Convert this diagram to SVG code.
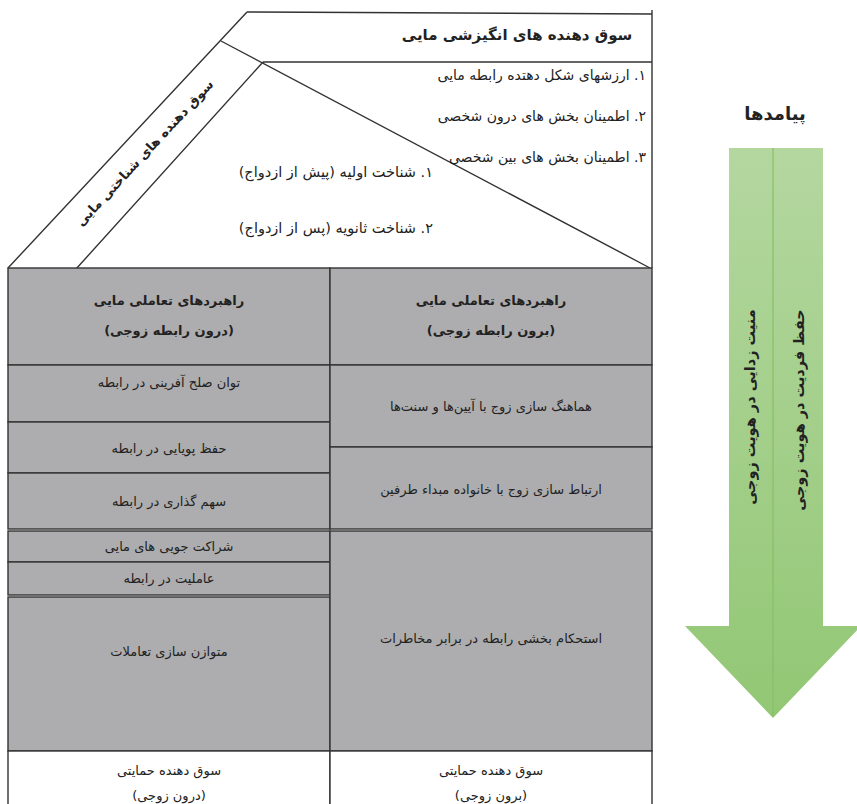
<svg xmlns="http://www.w3.org/2000/svg" width="857" height="804" viewBox="0 0 857 804">
<defs>
<linearGradient id="g" x1="0" y1="0" x2="0" y2="1">
<stop offset="0" stop-color="#b4d7a0"/>
<stop offset="1" stop-color="#92c774"/>
</linearGradient>
<style>
text{font-family:"DejaVu Sans","Noto Sans",sans-serif;fill:#222;}
.c{font-size:13px;text-anchor:middle;}
.h{font-size:13px;font-weight:bold;text-anchor:middle;}
.r{font-size:14px;direction:rtl;text-anchor:start;}
.ln{stroke:#333;stroke-width:1.4;fill:none;}
.cell{fill:#adadaf;stroke:#333;stroke-width:1.4;}
.wcell{fill:#fff;stroke:#333;stroke-width:1.4;}
.v{font-size:14.5px;font-weight:bold;text-anchor:middle;}
</style>
</defs>
<rect width="857" height="804" fill="#fff"/>

<g id="roof">
<path class="ln" d="M247,12 L652,14 M652,10 L652,268 M247,12 L8,268 M221,41 L650,268 M263,62 L652,62 M263,62 L76,269"/>
</g>

<g id="motivational">
<text class="h" x="517" y="40" direction="rtl" style="font-size:15px">سوق دهنده های انگیزشی مایی</text>
<text class="r" x="646" y="80">۱. ارزشهای شکل دهتده رابطه مایی</text>
<text class="r" x="646" y="121">۲. اطمینان بخش های درون شخصی</text>
<text class="r" x="646" y="162">۳. اطمینان بخش های بین شخصی</text>
</g>

<g id="cognitive">
<text class="h" transform="translate(148,156) rotate(-47)" x="0" y="0" direction="rtl">سوق دهنده های شناختی مایی</text>
<text class="r" x="433" y="177" style="font-size:14.5px">۱. شناخت اولیه (پیش از ازدواج)</text>
<text class="r" x="433" y="233" style="font-size:14.5px">۲. شناخت ثانویه (پس از ازدواج)</text>
</g>

<g id="inner-header">
<rect class="cell" x="8" y="268" width="322" height="97"/>
<text class="h" x="169" y="305" direction="rtl">راهبردهای تعاملی مایی</text>
<text class="h" x="169" y="335" direction="rtl">(درون رابطه زوجی)</text>
</g>
<g id="outer-header">
<rect class="cell" x="330" y="268" width="322" height="97"/>
<text class="h" x="491" y="305" direction="rtl">راهبردهای تعاملی مایی</text>
<text class="h" x="491" y="335" direction="rtl">(برون رابطه زوجی)</text>
</g>

<g id="l1"><rect class="cell" x="8" y="365" width="322" height="57"/><text class="c" x="169" y="387" direction="rtl">توان صلح آفرینی در رابطه</text></g>
<g id="l2"><rect class="cell" x="8" y="422" width="322" height="51"/><text class="c" x="169" y="453" direction="rtl">حفظ پویایی در رابطه</text></g>
<g id="l3"><rect class="cell" x="8" y="473" width="322" height="56"/><text class="c" x="169" y="506" direction="rtl">سهم گذاری در رابطه</text></g>
<g id="l4"><rect class="cell" x="8" y="531" width="322" height="31"/><text class="c" x="169" y="551" direction="rtl">شراکت جویی های مایی</text></g>
<g id="l5"><rect class="cell" x="8" y="562" width="322" height="33"/><text class="c" x="169" y="583" direction="rtl">عاملیت در رابطه</text></g>
<g id="l6"><rect class="cell" x="8" y="597" width="322" height="154"/><text class="c" x="169" y="656" direction="rtl">متوازن سازی تعاملات</text></g>

<g id="r1"><rect class="cell" x="330" y="365" width="322" height="82"/><text class="c" x="491" y="411" direction="rtl">هماهنگ سازی زوج با آیین‌ها و سنت‌ها</text></g>
<g id="r2"><rect class="cell" x="330" y="447" width="322" height="82"/><text class="c" x="491" y="494" direction="rtl">ارتباط سازی زوج با خانواده مبداء طرفین</text></g>
<g id="r3"><rect class="cell" x="330" y="531" width="322" height="220"/><text class="c" x="491" y="643" direction="rtl">استحکام بخشی رابطه در برابر مخاطرات</text></g>

<g id="support-inner">
<rect class="wcell" x="8" y="751" width="322" height="60"/>
<text class="c" x="169" y="775" direction="rtl">سوق دهنده حمایتی</text>
<text class="c" x="169" y="800" direction="rtl">(درون زوجی)</text>
</g>
<g id="support-outer">
<rect class="wcell" x="330" y="751" width="322" height="60"/>
<text class="c" x="491" y="775" direction="rtl">سوق دهنده حمایتی</text>
<text class="c" x="491" y="800" direction="rtl">(برون زوجی)</text>
</g>

<g id="outcomes">
<text x="775" y="120" style="font-size:18px;font-weight:bold;text-anchor:middle" direction="rtl">پیامدها</text>
<path d="M729,148 L823,148 L823,626 L861,626 L773,718 L685,626 L729,626 Z" fill="url(#g)"/>
<line x1="773" y1="148" x2="773" y2="716" stroke="#86c065" stroke-width="1.2"/>
<text class="v" transform="translate(755,407) rotate(-90)" x="0" y="0" direction="rtl">منیت زدایی در هویت زوجی</text>
<text class="v" transform="translate(804,410) rotate(-90)" x="0" y="0" direction="rtl">حفظ فردیت در هویت زوجی</text>
</g>
</svg>
